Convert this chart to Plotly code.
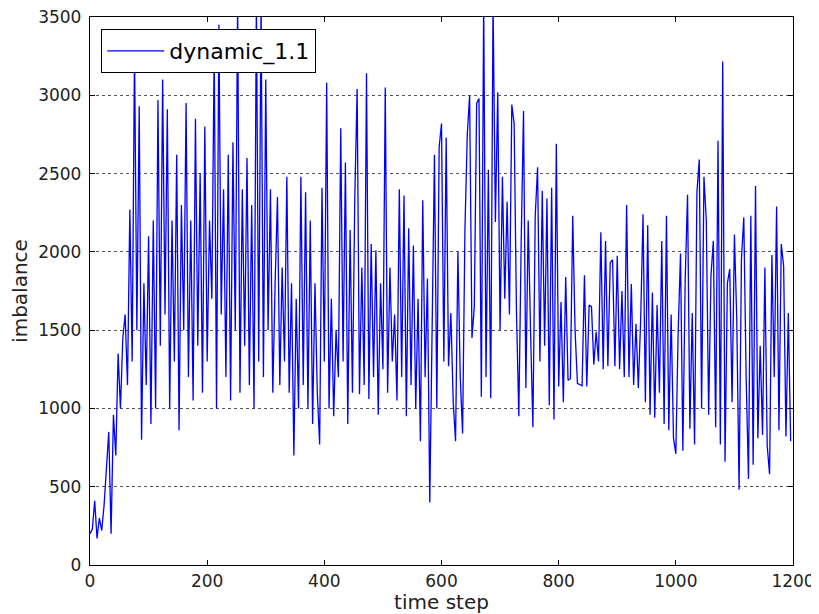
import plotly.graph_objects as go

step = 4
imbalance = [
    200, 230, 410, 170, 300, 220, 380, 620, 850, 200,
    960, 700, 1350, 1000, 1450, 1600, 1150, 2270, 1300, 3300,
    1500, 2930, 800, 1800, 1150, 2100, 900, 2200, 1000, 2970,
    1400, 3100, 1600, 2910, 1000, 2200, 1300, 2620, 860, 2300,
    1500, 2950, 1200, 2200, 1050, 2850, 1400, 2500, 1100, 2800,
    1300, 2200, 1700, 3300, 1000, 3450, 1600, 2400, 1200, 2620,
    1050, 2700, 1500, 3600, 1100, 2400, 1400, 2600, 1150, 2300,
    1000, 3600, 1300, 3600, 1200, 3100, 1500, 2400, 1100, 1800,
    2350, 1150, 1900, 1300, 2480, 1100, 1800, 700, 1700, 1000,
    2480, 1150, 2380, 1000, 2200, 900, 1800, 1100, 770, 2410,
    1300, 3080, 1000, 1700, 950, 1500, 1200, 2790, 1300, 2570,
    900, 2140, 1100, 2350, 3040, 1090, 1900, 1150, 3140, 1060,
    2050, 1200, 2010, 960, 1800, 1250, 3050, 1100, 1900, 1300,
    1600, 1050, 2400, 1200, 2360, 950, 2150, 1150, 2040, 1000,
    1700, 790, 2330, 1200, 1830, 400, 1650, 2620, 1000, 2670,
    2820, 1300, 2730, 1270, 1610, 1040, 790, 2000, 1200, 840,
    2140, 2750, 3000, 1450, 1650, 2950, 2980, 1075, 3600, 1200,
    2525, 1065, 3600, 2190, 3020, 1500, 2480, 1700, 2320, 1600,
    2940, 2820, 1610, 950, 2060, 2900, 1130, 2200, 1500, 880,
    2230, 2540, 1300, 2390, 1400, 2340, 1020, 2410, 930, 2690,
    1140, 1680, 1040, 1840, 1180, 1190, 2230, 1500, 1160, 1150,
    1145, 1850, 1140, 1660, 1650, 1280, 1490, 1300, 2125, 1250,
    2070, 1270, 1930, 1950, 1270, 1975, 1250, 1750, 1200, 2300,
    1200, 1795, 1150, 1540, 1130, 1570, 2240, 1040, 2170, 960,
    1740, 940, 1660, 1100, 2070, 900, 2230, 860, 1600, 810,
    710, 1490, 1990, 730, 1830, 2365, 870, 1610, 770, 2380,
    2590, 1000, 2480, 2200, 960, 1850, 2070, 880, 2710, 770,
    3215, 660, 1800, 1890, 1040, 2110, 1570, 480, 1955, 2220,
    1200, 550, 2230, 640, 2420, 810, 1400, 830, 1900, 760,
    580, 1980, 1200, 2290, 860, 2050, 1910, 820, 1610, 790,
]
time_step = [i * step for i in range(len(imbalance))]

x_ticks = [0, 200, 400, 600, 800, 1000, 1200]
y_ticks = [0, 500, 1000, 1500, 2000, 2500, 3000, 3500]

font = "DejaVu Sans, sans-serif"

fig = go.Figure()
fig.add_trace(go.Scatter(
    x=time_step, y=imbalance, mode="lines", name="dynamic_1.1",
    line=dict(color="#0000ff", width=1.3),
))

# page body has an 8px margin, so the figure is a bit smaller than the window
fig.update_layout(
    width=811, height=606,
    margin=dict(l=82, r=26, t=9, b=49),
    paper_bgcolor="white", plot_bgcolor="white",
    font=dict(family=font, size=17, color="#222222"),
    showlegend=True,
    legend=dict(
        x=0.016, y=0.978, xanchor="left", yanchor="top",
        bordercolor="black", borderwidth=1, bgcolor="white",
        font=dict(family=font, size=22, color="black"),
        itemwidth=57,
    ),
)
fig.update_xaxes(
    range=[0, 1200], tickvals=x_ticks, title=dict(text="time step", standoff=4),
    showline=True, linecolor="black", linewidth=1.3, mirror="allticks",
    ticks="inside", ticklen=5, tickcolor="black", showgrid=False, zeroline=False,
    ticklabeloverflow="allow", automargin=False,
)
fig.update_yaxes(
    range=[0, 3500], tickvals=y_ticks, title=dict(text="imbalance", standoff=10),
    showline=True, linecolor="black", linewidth=1.3, mirror="allticks",
    ticks="inside", ticklen=5, tickcolor="black", ticklabelstandoff=4,
    ticklabeloverflow="allow", automargin=False,
    showgrid=True, gridcolor="#555555", griddash="dot", gridwidth=0.8, zeroline=False,
)

fig.write_html("out.html")
